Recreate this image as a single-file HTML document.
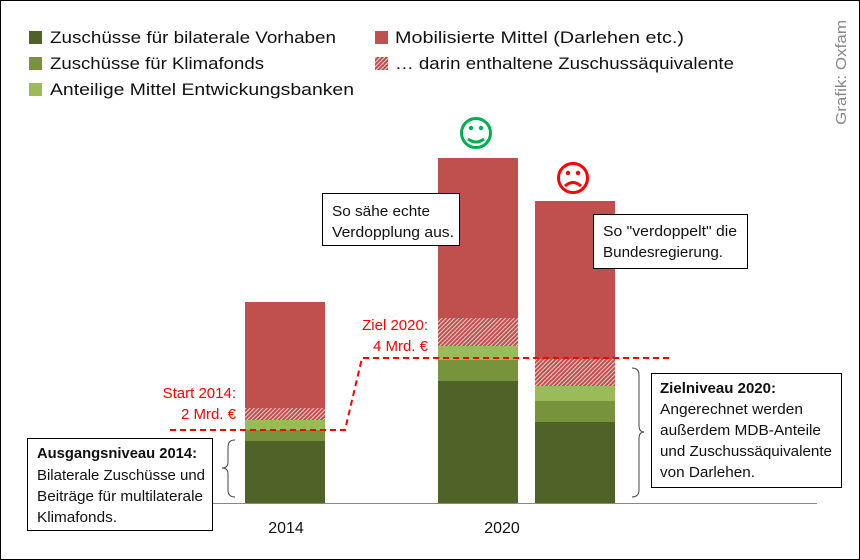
<!DOCTYPE html>
<html><head><meta charset="utf-8"><style>
html,body{margin:0;padding:0;background:#fff}
svg{display:block;font-family:"Liberation Sans",sans-serif}
</style></head><body>
<svg width="860" height="560" viewBox="0 0 860 560">
<defs>
<pattern id="h" width="3" height="3" patternUnits="userSpaceOnUse" patternTransform="rotate(45)">
<rect width="3" height="3" fill="#c0504d"/><rect width="0.9" height="3" fill="#f4dcdc"/>
</pattern>
</defs>
<rect x="0.5" y="0.5" width="859" height="559" fill="#fff" stroke="#000"/>
<g font-size="17" fill="#111">
<rect x="29" y="31" width="13" height="13" fill="#4f6228"/>
<text x="50" y="43" textLength="286" lengthAdjust="spacingAndGlyphs">Zuschüsse für bilaterale Vorhaben</text>
<rect x="29" y="57" width="13" height="13" fill="#77933c"/>
<text x="50" y="69" textLength="214" lengthAdjust="spacingAndGlyphs">Zuschüsse für Klimafonds</text>
<rect x="29" y="83" width="13" height="13" fill="#9bbb59"/>
<text x="50" y="95" textLength="304" lengthAdjust="spacingAndGlyphs">Anteilige Mittel Entwickungsbanken</text>
<rect x="375" y="31" width="13" height="13" fill="#c0504d"/>
<text x="395" y="43" textLength="289" lengthAdjust="spacingAndGlyphs">Mobilisierte Mittel (Darlehen etc.)</text>
<rect x="375" y="57" width="13" height="13" fill="url(#h)"/>
<text x="395" y="69" textLength="339" lengthAdjust="spacingAndGlyphs">… darin enthaltene Zuschussäquivalente</text>
</g>
<text transform="translate(846,125) rotate(-90)" font-size="15" fill="#888" textLength="105" lengthAdjust="spacingAndGlyphs">Grafik: Oxfam</text>
<rect x="245" y="302" width="80" height="106" fill="#c0504d"/>
<rect x="245" y="408" width="80" height="12" fill="url(#h)"/>
<rect x="245" y="420" width="80" height="10" fill="#9bbb59"/>
<rect x="245" y="430" width="80" height="11" fill="#77933c"/>
<rect x="245" y="441" width="80" height="62" fill="#4f6228"/>
<rect x="438" y="158" width="80" height="160" fill="#c0504d"/>
<rect x="438" y="318" width="80" height="28" fill="url(#h)"/>
<rect x="438" y="346" width="80" height="14" fill="#9bbb59"/>
<rect x="438" y="360" width="80" height="21" fill="#77933c"/>
<rect x="438" y="381" width="80" height="122" fill="#4f6228"/>
<rect x="535" y="201" width="80" height="158" fill="#c0504d"/>
<rect x="535" y="359" width="80" height="27" fill="url(#h)"/>
<rect x="535" y="386" width="80" height="15" fill="#9bbb59"/>
<rect x="535" y="401" width="80" height="21" fill="#77933c"/>
<rect x="535" y="422" width="80" height="81" fill="#4f6228"/>
<line x1="28" y1="503.5" x2="817" y2="503.5" stroke="#888" stroke-width="1"/>
<polyline points="170,430 345,430 362,358 672,358" fill="none" stroke="#f00" stroke-width="2" stroke-dasharray="6,4"/>
<g font-size="15" fill="#f00" text-anchor="end">
<text x="236" y="398">Start 2014:</text>
<text x="236" y="419">2 Mrd. €</text>
<text x="428" y="330">Ziel 2020:</text>
<text x="428" y="351">4 Mrd. €</text>
</g>
<g font-size="16" fill="#111" text-anchor="middle">
<text x="286" y="533">2014</text>
<text x="502" y="533">2020</text>
</g>
<g fill="none" stroke="#00b050" stroke-width="3">
<circle cx="476" cy="133" r="14.5"/>
<path d="M468,139 Q476,145 484,139"/>
</g>
<circle cx="471" cy="128" r="2.2" fill="#00b050"/><circle cx="481" cy="128" r="2.2" fill="#00b050"/>
<g fill="none" stroke="#f00" stroke-width="3">
<circle cx="573" cy="178" r="14.5"/>
<path d="M565,186 Q573,179 581,186"/>
</g>
<circle cx="568" cy="173" r="2.2" fill="#f00"/><circle cx="578" cy="173" r="2.2" fill="#f00"/>
<path d="M235,440 Q228,440 228,447 L228,462 Q228,468 222,468 Q228,468 228,474 L228,490 Q228,497 235,497" fill="none" stroke="#444" stroke-width="1"/>
<path d="M632,368 Q639,368 639,375 L639,425 Q639,432 644,432 Q639,432 639,439 L639,490 Q639,497 632,497" fill="none" stroke="#444" stroke-width="1"/>
<g fill="#fff" stroke="#000" stroke-width="1">
<rect x="27.5" y="438.5" width="185" height="92"/>
<rect x="322.5" y="193.5" width="137" height="52"/>
<rect x="593.5" y="214.5" width="154" height="54"/>
<rect x="651.5" y="373.5" width="190" height="114"/>
</g>
<g font-size="15" fill="#111" lengthAdjust="spacingAndGlyphs">
<text x="37" y="458" font-weight="bold" textLength="160" lengthAdjust="spacingAndGlyphs">Ausgangsniveau 2014:</text>
<text x="37" y="480" textLength="168" lengthAdjust="spacingAndGlyphs">Bilaterale Zuschüsse und</text>
<text x="37" y="501" textLength="166" lengthAdjust="spacingAndGlyphs">Beiträge für multilaterale</text>
<text x="37" y="522" textLength="80" lengthAdjust="spacingAndGlyphs">Klimafonds.</text>
<text x="332" y="216" textLength="98" lengthAdjust="spacingAndGlyphs">So sähe echte</text>
<text x="332" y="237" textLength="122" lengthAdjust="spacingAndGlyphs">Verdopplung aus.</text>
<text x="603" y="236" textLength="134" lengthAdjust="spacingAndGlyphs">So "verdoppelt" die</text>
<text x="603" y="257" textLength="120" lengthAdjust="spacingAndGlyphs">Bundesregierung.</text>
<text x="660" y="393" font-weight="bold" textLength="116" lengthAdjust="spacingAndGlyphs">Zielniveau 2020:</text>
<text x="660" y="414" textLength="143" lengthAdjust="spacingAndGlyphs">Angerechnet werden</text>
<text x="660" y="435" textLength="161" lengthAdjust="spacingAndGlyphs">außerdem MDB-Anteile</text>
<text x="660" y="456" textLength="172" lengthAdjust="spacingAndGlyphs">und Zuschussäquivalente</text>
<text x="660" y="477" textLength="95" lengthAdjust="spacingAndGlyphs">von Darlehen.</text>
</g>
</svg>
</body></html>
